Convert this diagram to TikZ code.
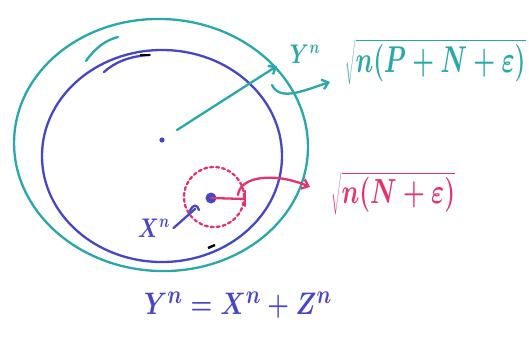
\documentclass[tikz,border=0pt]{standalone}
\usetikzlibrary{shapes.geometric,arrows.meta}
\definecolor{tealink}{RGB}{40,168,168}
\definecolor{blueink}{RGB}{70,70,200}
\definecolor{redink}{RGB}{228,50,110}
\begin{document}
\begin{tikzpicture}[x=1pt,y=-1pt,
  pen/.style={line width=2.3pt,line cap=round,line join=round},
  tip/.style={-{Straight Barb[length=6pt,width=10pt]}}]
\useasboundingbox (0,0) rectangle (529,341);
\fill[white] (0,0) rectangle (529,341);
% circles
\node[pen,draw=tealink,ellipse,minimum width=294pt,minimum height=252pt,rotate=-3] (outer) at (161,145) {};
\node[pen,draw=blueink,ellipse,minimum width=240pt,minimum height=212pt] (inner) at (162,156) {};
% small strokes near top
\draw[pen,tealink] (86,61) .. controls (95,48) and (106,40) .. (118,37);
\draw[pen,blueink] (104,72) .. controls (115,62) and (130,56) .. (150,55);
\draw[line width=2.4pt,black] (140,55) -- (150,55);
\draw[line width=2.4pt,black] (208,248) -- (215,245);
% centre and radius to outer circle
\coordinate (c) at (162,140);
\fill[blueink] (c) circle (2.6pt);
\coordinate (r1) at (177,130);
\coordinate (r2) at (277,66);
\draw[pen,tealink,tip] (r1) -- (r2);
\node[tealink,font=\fontsize{22}{24}\selectfont\boldmath] (ylab) at (305,54) {\scalebox{1}[1.3]{$Y^n$}};
\coordinate (a1) at (272,85);
\coordinate (a2) at (330,82);
\node[tealink,font=\fontsize{27}{30}\selectfont\boldmath,anchor=west] (big) at (342,62) {\scalebox{1}[1.5]{$\sqrt{n(P+N+\varepsilon)}$}};
\draw[pen,tealink,tip] (a1) .. controls (280,102) and (305,90) .. (a2);
% noisy point
\coordinate (x) at (211,198);
\fill[blueink] (x) circle (5.5pt);
\node[pen,draw=redink,dashed,circle,minimum size=60pt] (ball) at (214,197) {};
\draw[pen,redink] (x) -- (245,199);
\draw[pen,redink] (245,191) -- (245,206);
\node[redink,font=\fontsize{25}{28}\selectfont\boldmath,anchor=west] (small) at (328,194) {\scalebox{1}[1.4]{$\sqrt{n(N+\varepsilon)}$}};
\coordinate (b2) at (310,187);
\draw[pen,redink,tip] (238,195) .. controls (240,176) and (275,172) .. (b2);
% x^n label
\node[blueink,font=\fontsize{22}{24}\selectfont\boldmath] (xlab) at (154,228) {\scalebox{1}[1.3]{$X^n$}};
\coordinate (xp) at (195,209);
\draw[pen,blueink] (xlab.east) -- (xp);
\draw[pen,blueink] (190,211) .. controls (193,204) and (197,204) .. (199,210);
% equation
\node[blueink,font=\fontsize{28}{30}\selectfont\boldmath] (eq) at (238,305) {\scalebox{1}[1.25]{$Y^n = X^n + Z^n$}};
\end{tikzpicture}
\end{document}
